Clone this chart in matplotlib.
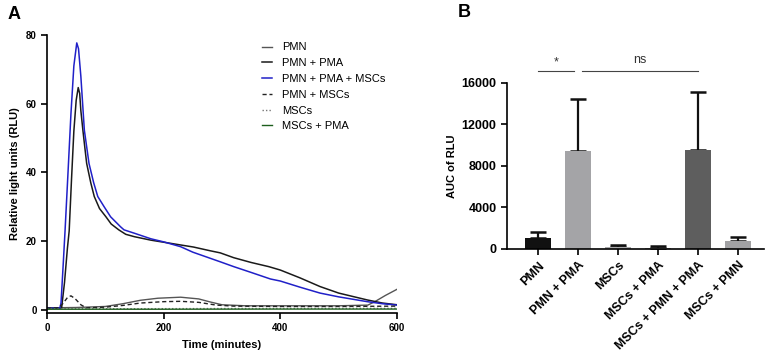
import matplotlib.pyplot as plt

plt.rcParams['font.family'] = ['Liberation Sans', 'DejaVu Sans']

# Panel A: kinetic curves (time in minutes, RLU)
t_pmn_pma = [0, 10, 20, 25, 30, 35, 38, 42, 46, 50, 53.5, 56, 58, 61.5, 65, 68, 75, 81, 90, 101,
             110, 123, 135, 150, 178, 200, 229, 251, 280, 297, 320, 350, 380, 400, 434, 468,
             500, 549, 575, 600]
v_pmn_pma = [0.5, 0.5, 0.5, 0.6, 8, 18, 23, 38, 52, 61, 64.7, 63, 58, 52.3, 47, 42.6, 37, 33, 29.5,
             27.1, 25, 23.3, 22, 21.3, 20.3, 19.7, 18.9, 18.3, 17.2, 16.6, 15.2, 13.8, 12.6, 11.6,
             9.3, 6.8, 4.9, 2.9, 2.0, 1.5]

t_pmn_pma_msc = [0, 10, 22, 24, 28, 31, 36, 41, 46, 51, 54, 58, 64, 72, 80, 87, 98, 109, 126,
                 132, 150, 178, 200, 229, 250, 297, 320, 350, 383, 400, 434, 468, 500, 549, 575, 600]
v_pmn_pma_msc = [0.5, 0.5, 0.5, 2, 14, 23.3, 40, 57, 71, 77.7, 76, 68, 52.3, 42.6, 37, 33, 30,
                 27.1, 24.2, 23.3, 22.3, 20.7, 19.8, 18.4, 16.8, 14, 12.6, 10.9, 9.0, 8.4, 6.6,
                 4.9, 3.8, 2.4, 1.8, 1.4]

t_pmn = [0, 50, 100, 130, 160, 190, 229, 260, 280, 300, 340, 400, 500, 550, 562, 580, 600]
v_pmn = [0.6, 0.7, 1.0, 1.8, 2.8, 3.4, 3.7, 3.2, 2.3, 1.5, 1.2, 1.2, 1.2, 1.4, 2.4, 4.2, 6.0]

t_pmn_msc = [0, 20, 28, 35, 41, 48, 58, 67, 100, 130, 160, 200, 229, 260, 290, 320, 400, 500, 600]
v_pmn_msc = [0.5, 0.6, 2, 3.6, 4.1, 3.3, 1.5, 0.6, 0.8, 1.3, 2.0, 2.4, 2.5, 2.2, 1.4, 1.1, 1.0, 1.0, 1.1]

t_msc = [0, 150, 300, 450, 600]
v_msc = [0.35, 0.35, 0.4, 0.45, 0.45]

t_msc_pma = [0, 200, 400, 600]
v_msc_pma = [0.2, 0.2, 0.25, 0.25]

# Panel B: AUC bars
categories = ['PMN', 'PMN + PMA', 'MSCs', 'MSCs + PMA', 'MSCs + PMN + PMA', 'MSCs + PMN']
auc_mean = [1050, 9400, 150, 100, 9500, 750]
auc_sd = [600, 5100, 200, 200, 5600, 450]
bar_colors = ['#111111', '#a4a4a7', '#a9a9ab', '#a9a9ab', '#5e5e5e', '#a2a2a4']

fig = plt.figure(figsize=(7.67, 3.55), dpi=100)

# ---- panel A ----
axA = fig.add_axes([0.0613, 0.1183, 0.4563, 0.7831])
axA.plot(t_pmn, v_pmn, color='#555555', lw=1.0, label='PMN')
axA.plot(t_pmn_pma, v_pmn_pma, color='#1a1a1a', lw=1.1, label='PMN + PMA')
axA.plot(t_pmn_pma_msc, v_pmn_pma_msc, color='#2020c8', lw=1.1, label='PMN + PMA + MSCs')
axA.plot(t_pmn_msc, v_pmn_msc, color='#222222', lw=1.0, ls=(0, (3, 2)), label='PMN + MSCs')
axA.plot(t_msc, v_msc, color='#777777', lw=1.0, ls=(0, (1, 1.5)), label='MSCs')
axA.plot(t_msc_pma, v_msc_pma, color='#1d5e1d', lw=1.0, label='MSCs + PMA')

axA.set_xlim(0, 600)
axA.set_ylim(-0.9, 80)
axA.set_xticks([0, 200, 400, 600])
axA.set_yticks([0, 20, 40, 60, 80])
axA.spines['top'].set_visible(False)
axA.spines['right'].set_visible(False)
for s in ['left', 'bottom']:
    axA.spines[s].set_linewidth(1.2)
axA.tick_params(length=4, width=1.2, labelsize=7)
for lab in axA.get_xticklabels() + axA.get_yticklabels():
    lab.set_fontweight('bold')
axA.set_xlabel('Time (minutes)', fontsize=8, fontweight='bold', labelpad=5)
axA.set_ylabel('Relative light units (RLU)', fontsize=8, fontweight='bold', labelpad=4)

fig.legend(*axA.get_legend_handles_labels(), loc='upper left',
           bbox_to_anchor=(258 / 767, 1 - 38 / 355), frameon=False, fontsize=8,
           handlelength=0.9, handletextpad=0.9, labelspacing=0.52, borderaxespad=0)

# ---- panel B ----
axB = fig.add_axes([0.661, 0.2986, 0.335, 0.4676])
xpos = list(range(len(categories)))
axB.bar(xpos, auc_mean, width=0.66, color=bar_colors, zorder=2)
axB.errorbar(xpos, auc_mean, yerr=[[0] * len(auc_sd), auc_sd], fmt='none', ecolor='#111111',
             elinewidth=1.6, capsize=6, capthick=1.8, zorder=1)
axB.set_xlim(-0.78, 5.65)
axB.set_ylim(0, 16000)
axB.set_yticks([0, 4000, 8000, 12000, 16000])
axB.set_xticks(xpos)
axB.set_xticklabels(categories, rotation=45, ha='right', rotation_mode='anchor')
axB.spines['top'].set_visible(False)
axB.spines['right'].set_visible(False)
for s in ['left', 'bottom']:
    axB.spines[s].set_linewidth(1.2)
axB.tick_params(length=4, width=1.2, labelsize=9)
axB.tick_params(axis='x', labelsize=9)
for lab in axB.get_xticklabels() + axB.get_yticklabels():
    lab.set_fontweight('bold')
axB.set_ylabel('AUC of RLU', fontsize=8, fontweight='bold', labelpad=3)

# significance annotations
axB.plot([0, 0.9], [17150, 17150], color='#444444', lw=0.8, clip_on=False)
axB.plot([1.1, 4.0], [17150, 17150], color='#444444', lw=0.8, clip_on=False)
axB.text(0.45, 17450, '*', ha='center', va='bottom', fontsize=9, color='#333333')
axB.text(2.55, 17600, 'ns', ha='center', va='bottom', fontsize=9, color='#333333')

# panel letters
fig.text(8 / 767, 1 - 19 / 355, 'A', fontsize=13, fontweight='bold')
fig.text(458 / 767, 1 - 17 / 355, 'B', fontsize=13, fontweight='bold')

fig.savefig('out.png', dpi=100)
